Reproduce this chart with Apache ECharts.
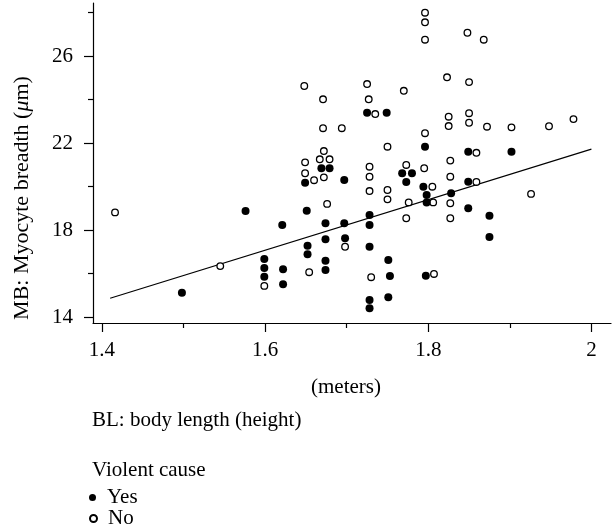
<!DOCTYPE html>
<html>
<head>
<meta charset="utf-8">
<script src="https://cdn.jsdelivr.net/npm/echarts@6/dist/echarts.min.js"></script>
<style>
  html, body { margin: 0; padding: 0; background: #fff; }
  #chart { width: 613px; height: 529px; }
</style>
</head>
<body>
<div id="chart"></div>
<script>
// violent cause = yes (filled dots)
const yesX = [1.498, 1.576, 1.599, 1.599, 1.599, 1.621, 1.622, 1.622, 1.649, 1.651, 1.652, 1.652,
  1.669, 1.679, 1.674, 1.674, 1.674, 1.674, 1.697, 1.697, 1.698, 1.725, 1.749, 1.728, 1.728,
  1.728, 1.728, 1.728, 1.751, 1.753, 1.751, 1.768, 1.780, 1.773, 1.794, 1.798, 1.798, 1.796,
  1.797, 1.828, 1.849, 1.849, 1.849, 1.875, 1.875, 1.902];
const yesY = [15.12, 18.87, 16.67, 16.25, 15.85, 18.23, 16.19, 15.50, 20.17, 18.89, 17.28, 16.88,
  20.84, 20.84, 18.31, 17.57, 16.59, 16.16, 20.30, 18.31, 17.62, 23.39, 23.39, 18.69, 18.23,
  17.23, 14.78, 14.40, 16.62, 15.89, 14.91, 20.61, 20.61, 20.21, 19.99, 19.61, 19.26, 21.83,
  15.90, 19.69, 21.60, 20.22, 19.00, 18.66, 17.68, 21.60];

// violent cause = no (open circles)
const noX = [1.416, 1.545, 1.599, 1.648, 1.649, 1.649, 1.654, 1.660, 1.667, 1.679, 1.672, 1.672,
  1.671, 1.671, 1.676, 1.694, 1.698, 1.725, 1.727, 1.735, 1.728, 1.728, 1.728, 1.730, 1.750,
  1.750, 1.750, 1.770, 1.773, 1.776, 1.773, 1.796, 1.796, 1.796, 1.796, 1.795, 1.805, 1.806,
  1.807, 1.823, 1.825, 1.825, 1.827, 1.827, 1.827, 1.827, 1.848, 1.850, 1.850, 1.850, 1.859,
  1.859, 1.868, 1.872, 1.902, 1.926, 1.948, 1.978];
const noY = [18.81, 16.34, 15.43, 24.62, 21.11, 20.61, 16.06, 20.29, 21.25, 21.25, 21.63, 20.42,
  24.01, 22.68, 19.20, 22.68, 17.23, 24.71, 24.01, 23.33, 20.91, 20.45, 19.79, 15.83, 21.83,
  19.84, 19.41, 24.40, 20.99, 19.27, 18.54, 27.99, 27.55, 26.75, 22.45, 20.84, 19.99, 19.27,
  15.98, 25.02, 23.21, 22.78, 21.19, 20.45, 19.23, 18.54, 27.07, 24.80, 23.37, 22.93, 21.55,
  20.21, 26.75, 22.75, 22.72, 19.66, 22.77, 23.10];

// fitted line
const fitX = [1.41, 2.0];
const fitY = [14.86, 21.72];

const xMajorTicks = [1.4, 1.6, 1.8, 2];
const xMinorTicks = [1.5, 1.7, 1.9];
const yMajorTicks = [14, 18, 22, 26];
const yMinorTicks = [16, 20, 24, 28];

const serif = '"Liberation Serif", "Times New Roman", serif';
const black = '#000';

const pairs = (xs, ys) => xs.map((x, i) => [x, ys[i]]);

const xRange = { min: 1.389, max: 2.024 };
const yRange = { min: 13.724, max: 28.437 };

// one legend block per row so nothing wraps into a second column
const legendRow = (name, top) => ({
  data: [name],
  left: 89,
  top: top,
  padding: 0,
  icon: 'circle',
  itemWidth: 19,
  itemHeight: 7,
  selectedMode: false,
  textStyle: { color: black, fontFamily: serif, fontSize: 21, lineHeight: 20 }
});

const chart = echarts.init(document.getElementById('chart'), null, { renderer: 'canvas' });

const option = {
  animation: false,
  backgroundColor: '#fff',
  grid: { left: 93, right: 2, top: 3, bottom: 206 },
  xAxis: [
    {
      type: 'value', position: 'bottom', ...xRange,
      axisLine: { onZero: false, lineStyle: { color: black, width: 1.2 } },
      axisTick: { customValues: xMajorTicks, length: 9, lineStyle: { color: black, width: 1.2 } },
      axisLabel: { customValues: xMajorTicks, margin: 17, color: black, fontFamily: serif, fontSize: 21 },
      splitLine: { show: false }
    },
    {
      type: 'value', position: 'bottom', ...xRange,
      axisLine: { show: false, onZero: false },
      axisTick: { customValues: xMinorTicks, length: 5, lineStyle: { color: black, width: 1.2 } },
      axisLabel: { show: false },
      splitLine: { show: false }
    }
  ],
  yAxis: [
    {
      type: 'value', position: 'left', ...yRange,
      axisLine: { show: true, onZero: false, lineStyle: { color: black, width: 1.2 } },
      axisTick: { show: true, customValues: yMajorTicks, length: 9, lineStyle: { color: black, width: 1.2 } },
      axisLabel: { customValues: yMajorTicks, margin: 20, color: black, fontFamily: serif, fontSize: 21, padding: [4, 0, 0, 0] },
      splitLine: { show: false }
    },
    {
      type: 'value', position: 'left', ...yRange,
      axisLine: { show: false, onZero: false },
      axisTick: { show: true, customValues: yMinorTicks, length: 5, lineStyle: { color: black, width: 1.2 } },
      axisLabel: { show: false },
      splitLine: { show: false }
    }
  ],
  legend: [legendRow('Yes', 487), legendRow('No', 508)],
  graphic: [
    {
      type: 'text', x: 22, y: 198, rotation: Math.PI / 2,
      style: {
        text: '{a|MB: Myocyte breadth (}{i|μ}{a|m)}',
        textAlign: 'center', textVerticalAlign: 'middle',
        rich: {
          a: { fontFamily: serif, fontSize: 22, fill: black },
          i: { fontFamily: serif, fontSize: 22, fontStyle: 'italic', fill: black }
        }
      }
    },
    {
      type: 'text', x: 346, y: 387,
      style: { text: '(meters)', font: '21px ' + serif, fill: black, textAlign: 'center', textVerticalAlign: 'middle' }
    },
    {
      type: 'text', x: 92, y: 420,
      style: { text: 'BL: body length (height)', font: '21px ' + serif, fill: black, textAlign: 'left', textVerticalAlign: 'middle' }
    },
    {
      type: 'text', x: 92, y: 470,
      style: { text: 'Violent cause', font: '21px ' + serif, fill: black, textAlign: 'left', textVerticalAlign: 'middle' }
    }
  ],
  series: [
    {
      name: 'fit', type: 'line', xAxisIndex: 0, yAxisIndex: 0,
      data: pairs(fitX, fitY),
      showSymbol: false, symbol: 'none', silent: true, z: 1,
      lineStyle: { color: black, width: 1.2 }
    },
    {
      name: 'No', type: 'scatter', xAxisIndex: 0, yAxisIndex: 0,
      data: pairs(noX, noY),
      symbol: 'circle', symbolSize: 6.6, z: 2,
      itemStyle: { color: '#fff', borderColor: black, borderWidth: 1.3, opacity: 1 }
    },
    {
      name: 'Yes', type: 'scatter', xAxisIndex: 0, yAxisIndex: 0,
      data: pairs(yesX, yesY),
      symbol: 'circle', symbolSize: 8, z: 3,
      itemStyle: { color: black, opacity: 1 }
    }
  ]
};

chart.setOption(option);
</script>
</body>
</html>
